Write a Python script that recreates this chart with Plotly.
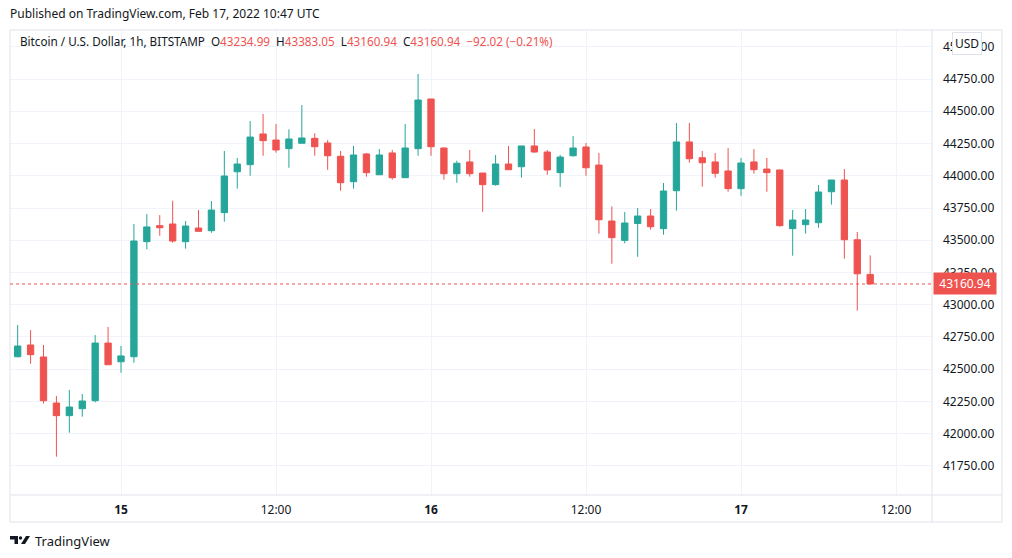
import pandas as pd
import plotly.graph_objects as go

# BTC/USD 1h bars, Feb 14 16:00 -> Feb 17 10:00 (UTC)
opens = [42597, 42688, 42595, 42238, 42140, 42194, 42256, 42703, 42558, 42597,
         43489, 43613, 43626, 43489, 43595, 43574, 43714, 44031, 44086, 44324,
         44277, 44210, 44252, 44290, 44254, 44151, 43954, 44169, 44008, 44177,
         43985, 44210, 44595, 44215, 44016, 44107, 44021, 43931, 44091, 44070,
         44231, 44184, 44024, 44155, 44223, 44083, 43649, 43499, 43630, 43688,
         43590, 43884, 44262, 44140, 44107, 44037, 43900, 44107, 44052, 44045,
         43590, 43621, 43636, 43876, 43967, 43504, 43234.99]
highs = [42843, 42804, 42688, 42293, 42339, 42308, 42765, 42828, 42680, 43626,
         43703, 43695, 43807, 43649, 43734, 43804, 44192, 44138, 44424, 44479,
         44401, 44360, 44548, 44329, 44277, 44192, 44231, 44177, 44207, 44200,
         44401, 44789, 44595, 44220, 44117, 44200, 44021, 44161, 44231, 44231,
         44362, 44200, 44161, 44308, 44254, 44177, 43763, 43719, 43750, 43742,
         43944, 44409, 44409, 44192, 44177, 44215, 44138, 44207, 44138, 44045,
         43734, 43742, 43928, 43967, 44052, 43564, 43383.05]
lows = [42592, 42543, 42235, 41822, 42008, 42132, 42243, 42535, 42473, 42550,
        43430, 43535, 43481, 43435, 43569, 43558, 43644, 43900, 44000, 44155,
        44179, 44062, 44252, 44155, 44045, 43884, 43900, 43993, 44008, 43970,
        43985, 44155, 44155, 43970, 43946, 43993, 43721, 43923, 44047, 43985,
        44179, 44008, 43913, 44148, 44000, 43551, 43318, 43476, 43372, 43582,
        43543, 43729, 44101, 43915, 43985, 43876, 43845, 44016, 43876, 43605,
        43380, 43551, 43597, 43776, 43357, 42954, 43160.94]
closes = [42680, 42613, 42256, 42140, 42207, 42254, 42703, 42535, 42603, 43494,
          43603, 43597, 43494, 43610, 43569, 43734, 43998, 44091, 44300, 44272,
          44200, 44285, 44293, 44225, 44155, 43946, 44161, 44024, 44161, 43985,
          44215, 44587, 44225, 44016, 44097, 44016, 43931, 44091, 44047, 44231,
          44184, 44045, 44145, 44215, 44062, 43659, 43520, 43634, 43688, 43605,
          43882, 44262, 44132, 44101, 44019, 43900, 44099, 44047, 44024, 43613,
          43657, 43657, 43874, 43967, 43504, 43240, 43160.94]

times = pd.date_range("2022-02-14 16:00", periods=len(opens), freq="h")

tick_times = ["2022-02-15 00:00", "2022-02-15 12:00", "2022-02-16 00:00",
              "2022-02-16 12:00", "2022-02-17 00:00", "2022-02-17 12:00"]
tick_text = ["<b>15</b>", "12:00", "<b>16</b>", "12:00", "<b>17</b>", "12:00"]

last_price = 43160.94
green = "#26a69a"
red = "#ef5350"
border = "#e0e3eb"
txt = "#131722"
font = "Noto Sans"

# plot area in pixels
L, R, T, B = 10, 932, 30, 495
W, H = R - L, B - T


def px(x):
    return (x - L) / W


def py(y):
    return (B - y) / H


fig = go.Figure()
fig.add_trace(go.Candlestick(
    x=times, open=opens, high=highs, low=lows, close=closes,
    increasing=dict(line=dict(color=green, width=1), fillcolor=green),
    decreasing=dict(line=dict(color=red, width=1), fillcolor=red),
    hoverinfo="skip", showlegend=False,
))

x0 = pd.Timestamp("2022-02-15 00:00") - pd.Timedelta(hours=(121 - L) / 12.917)
x1 = pd.Timestamp("2022-02-15 00:00") + pd.Timedelta(hours=(R - 121) / 12.917)

fig.update_layout(
    width=1012, height=558,
    margin=dict(l=L, r=1012 - R, t=T, b=558 - B),
    paper_bgcolor="white", plot_bgcolor="white",
    font=dict(family=font, size=12, color=txt),
    xaxis=dict(
        range=[x0, x1], rangeslider=dict(visible=False),
        tickvals=tick_times, ticktext=tick_text,
        showgrid=True, gridcolor="#f0f3fa", zeroline=False,
        showline=False, ticks="", ticklabelstandoff=6,
        tickfont=dict(size=12, color=txt),
    ),
    yaxis=dict(
        side="right", range=[41525, 45130], dtick=250, tick0=0,
        tickformat=".2f", showgrid=True, gridcolor="#f0f3fa",
        zeroline=False, showline=False, ticks="", ticklabelstandoff=10,
        tickfont=dict(size=12, color=txt),
    ),
)

shapes = [
    dict(type="rect", xref="paper", yref="paper", x0=px(10), x1=px(1002),
         y0=py(522), y1=py(30), line=dict(color=border, width=1)),
    dict(type="line", xref="paper", yref="paper", x0=px(932), x1=px(932),
         y0=py(522), y1=py(30), line=dict(color=border, width=1)),
    dict(type="line", xref="paper", yref="paper", x0=px(10), x1=px(1002),
         y0=py(495), y1=py(495), line=dict(color=border, width=1)),
    dict(type="line", xref="paper", yref="y", x0=0, x1=1,
         y0=last_price, y1=last_price, line=dict(color=red, width=1, dash="dot")),
    # TradingView logo
    dict(type="path", xref="paper", yref="paper", fillcolor=txt, line=dict(width=0),
         path=f"M{px(10)},{py(536)} L{px(18)},{py(536)} L{px(18)},{py(544)} "
              f"L{px(14.5)},{py(544)} L{px(14.5)},{py(539.5)} L{px(10)},{py(539.5)} Z"),
    dict(type="circle", xref="paper", yref="paper", fillcolor=txt, line=dict(width=0),
         x0=px(18.8), x1=px(22.2), y0=py(539.7), y1=py(536.3)),
    dict(type="path", xref="paper", yref="paper", fillcolor=txt, line=dict(width=0),
         path=f"M{px(26)},{py(536)} L{px(30)},{py(536)} L{px(25)},{py(544)} "
              f"L{px(21)},{py(544)} Z"),
]
fig.update_layout(shapes=shapes)


def rs(s):
    return f"<span style='color:{red}'>{s}</span>"


legend = ("Bitcoin / U.S. Dollar, 1h, BITSTAMP&nbsp;&nbsp;"
          f"O{rs('43234.99')}&nbsp;&nbsp;H{rs('43383.05')}&nbsp;&nbsp;"
          f"L{rs('43160.94')}&nbsp;&nbsp;C{rs('43160.94')}&nbsp;&nbsp;"
          f"{rs('−92.02 (−0.21%)')}")

annotations = [
    dict(text="Published on TradingView.com, Feb 17, 2022 10:47 UTC",
         x=px(8), y=py(14), xref="paper", yref="paper", xanchor="left",
         yanchor="middle", showarrow=False, font=dict(size=12, color=txt)),
    dict(text=legend, x=px(18), y=py(41), xref="paper", yref="paper",
         xanchor="left", yanchor="middle", showarrow=False,
         font=dict(size=11.7, color=txt)),
    dict(text="USD", x=px(967), y=py(43), xref="paper", yref="paper",
         xanchor="center", yanchor="middle", showarrow=False,
         bgcolor="white", bordercolor=border, borderwidth=1, borderpad=2,
         font=dict(size=12, color=txt)),
    dict(text=f"{last_price:.2f}", x=px(933), y=last_price, xref="paper", yref="y",
         xanchor="left", yanchor="middle", showarrow=False,
         bgcolor=red, borderpad=2, width=58, font=dict(size=12, color="white")),
    dict(text="TradingView", x=px(33), y=py(541), xref="paper", yref="paper",
         xanchor="left", yanchor="middle", showarrow=False,
         font=dict(size=13, color=txt)),
]
fig.update_layout(annotations=annotations)

# drop the browser's default 8px body margin so the figure sits at (0, 0)
fig.write_html("out.html", config={"displayModeBar": False},
               post_script="document.body.style.margin='0';")
